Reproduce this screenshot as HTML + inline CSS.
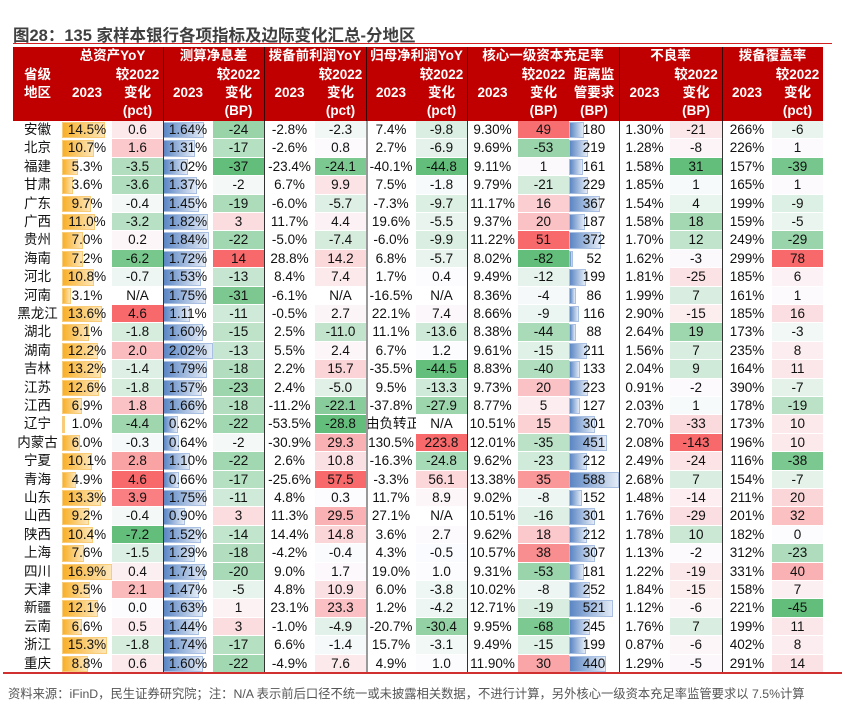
<!DOCTYPE html>
<html><head><meta charset="utf-8">
<style>
body{margin:0;background:#fff;width:845px;height:727px;overflow:hidden;position:relative;font-family:"Liberation Sans","Noto Sans CJK SC",sans-serif;}
.a{position:absolute;box-sizing:border-box;}
.title{left:13px;top:22px;font-size:16.5px;font-weight:bold;color:#404040;white-space:nowrap;}
.hd{color:#fff;font-weight:bold;font-size:13.5px;text-align:center;white-space:nowrap;line-height:18px;}
.c{font-size:13.5px;text-align:center;line-height:18.4px;white-space:nowrap;color:#111;}
.foot{left:8px;top:684px;font-size:12.3px;color:#555;white-space:nowrap;}
</style></head><body>
<div class="a title">图28：135 家样本银行各项指标及边际变化汇总-分地区</div>
<div class="a" style="left:13px;top:43px;width:819px;height:1px;background:#d02020"></div>
<div class="a" id="hdr" style="left:13px;top:47px;width:810px;height:74px;background:#c00000"></div>
<div id="body"></div>
<div class="a" style="left:3px;top:672px;width:839px;height:2px;background:#d03030"></div>
<div class="a foot">资料来源：iFinD，民生证券研究院；注：N/A 表示前后口径不统一或未披露相关数据，不进行计算，另外核心一级资本充足率监管要求以 7.5%计算</div>
<script>
const provinces=["安徽","北京","福建","甘肃","广东","广西","贵州","海南","河北","河南","黑龙江","湖北","湖南","吉林","江苏","江西","辽宁","内蒙古","宁夏","青海","山东","山西","陕西","上海","四川","天津","新疆","云南","浙江","重庆"];
const asset=[14.5,10.7,5.3,3.6,9.7,11.0,7.0,7.2,10.8,3.1,13.6,9.1,12.2,13.2,12.6,6.9,1.0,6.0,10.1,4.9,13.3,9.2,10.4,7.6,16.9,9.5,12.1,6.6,15.3,8.8];
const assetChg=[0.6,1.6,-3.5,-3.6,-0.4,-3.2,0.2,-6.2,-0.7,null,4.6,-1.8,2.0,-1.4,-1.8,1.8,-4.4,-0.3,2.8,4.6,3.9,-0.4,-7.2,-1.5,0.4,2.1,0.0,0.5,-1.8,0.6];
const nim=[1.64,1.31,1.02,1.37,1.45,1.82,1.84,1.72,1.53,1.75,1.11,1.60,2.02,1.79,1.57,1.66,0.62,0.64,1.10,0.66,1.75,0.90,1.52,1.29,1.71,1.47,1.63,1.44,1.74,1.60];
const nimChg=[-24,-17,-37,-2,-19,3,-22,14,-13,-31,-11,-15,-13,-18,-23,-18,-22,-2,-22,-17,-11,3,-14,-18,-20,-5,1,3,-17,-22];
const ppop=[-2.8,-2.6,-23.4,6.7,-6.0,11.7,-5.0,28.8,8.4,-6.1,-0.5,2.5,5.5,2.2,2.4,-11.2,-53.5,-30.9,2.6,-25.6,4.8,11.3,14.4,-4.2,9.0,4.8,23.1,-1.0,6.6,-4.9];
const ppopChg=[-2.3,0.8,-24.1,9.9,-5.7,4.4,-7.4,14.2,7.4,null,2.7,-11.0,2.4,15.7,-5.0,-22.1,-28.8,29.3,10.8,57.5,0.3,29.5,14.8,-0.4,1.7,10.9,23.3,-4.9,-1.4,7.6];
const netProfit=[7.4,2.7,-40.1,7.5,-7.3,19.6,-6.0,6.8,1.7,-16.5,22.1,11.1,6.7,-35.5,9.5,-37.8,"由负转正",130.5,-16.3,-3.3,11.7,27.1,3.6,4.3,19.0,6.0,1.2,-20.7,15.7,4.9];
const netProfitChg=[-9.8,-6.9,-44.8,-1.8,-9.7,-5.5,-9.9,-5.7,0.4,null,7.4,-13.6,1.2,-44.5,-13.3,-27.9,null,223.8,-24.8,56.1,8.9,null,2.7,-0.5,1.0,-3.8,-4.2,-30.4,-3.1,1.0];
const cet1=[9.30,9.69,9.11,9.79,11.17,9.37,11.22,8.02,9.49,8.36,8.66,8.38,9.61,8.83,9.73,8.77,10.51,12.01,9.62,13.38,9.02,10.51,9.62,10.57,9.31,10.02,12.71,9.95,9.49,11.90];
const cet1Chg=[49,-53,1,-21,16,20,51,-82,-12,-4,-9,-44,-15,-40,20,5,15,-35,-23,35,-8,-16,18,38,-53,-8,-19,-68,-15,30];
const cet1Gap=[180,219,161,229,367,187,372,52,199,86,116,88,211,133,223,127,301,451,212,588,152,301,212,307,181,252,521,245,199,440];
const npl=[1.30,1.28,1.58,1.85,1.54,1.58,1.70,1.62,1.81,1.99,2.90,2.64,1.56,2.04,0.91,2.03,2.70,2.08,2.49,2.68,1.48,1.76,1.78,1.13,1.22,1.84,1.12,1.76,0.87,1.29];
const nplChg=[-21,-8,31,1,4,18,12,-3,-25,7,-15,19,7,9,-2,1,-33,-143,-24,7,-14,-29,10,-2,-19,-15,-6,7,-6,-5];
const coverage=[266,226,157,165,199,159,249,299,185,161,185,173,235,164,390,178,173,196,116,154,211,201,182,312,331,158,221,199,402,291];
const coverageChg=[-6,1,-39,1,-9,-5,-29,78,6,1,16,-3,8,11,-7,-19,10,10,-38,-7,20,32,0,-23,40,7,-45,11,8,14];

const X=[13,62,112,163,213,264,315,366,416,467,518,569,619,670,722,772,823];
const TOP=121,RH=18.4;
const body=document.getElementById('body');
function mk(cls,l,t,w,h,txt,name){const d=document.createElement('div');d.className='a '+cls;d.style.left=l+'px';d.style.top=t+'px';d.style.width=w+'px';d.style.height=h+'px';if(txt!==undefined)d.textContent=txt;


return d;}
function mix(a,b,t){return 'rgb('+a.map((v,i)=>Math.round(v+(b[i]-v)*t)).join(',')+')';}
const W=[252,252,255],R=[248,105,107],G=[99,190,123];
function heat(arr,v,rev){if(v===null||typeof v!=='number')return '#fff';const nums=arr.filter(x=>typeof x==='number');const mx=Math.max(...nums),mn=Math.min(...nums);
if(v>=0){const t=mx>0?v/mx:0;return mix(W,rev?G:R,t);}const t=mn<0?v/mn:0;return mix(W,rev?R:G,t);}
function fmt(v,d,suf){if(v===null)return 'N/A';if(typeof v!=='number')return v;return v.toFixed(d)+(suf||'');}
function bar(ci,i,v,max,kind){const w=(X[ci+1]-X[ci])*v/max;const b=mk('',X[ci],TOP+i*RH+1,w,RH-2,undefined,kind+'-bar');
b.style.background=kind==='asset'?'linear-gradient(90deg,#f8b02a,#fde6b8)':'linear-gradient(90deg,#5b86c4,#e3ebf6)';
b.style.border=kind==='asset'?'1px solid #f9cc7a':'1px solid #a9c0e2';body.appendChild(b);}
function cell(ci,i,txt,bg,name){const d=mk('c',X[ci],TOP+i*RH,X[ci+1]-X[ci],RH,txt,name);if(bg){d.style.background=bg;d.style.borderBottom='1px solid #fff';}body.appendChild(d);}
const aMax=Math.max(...asset),nMax=Math.max(...nim),gMax=Math.max(...cet1Gap);
provinces.forEach((p,i)=>{
 cell(0,i,p,null,'province-label');
 bar(1,i,asset[i],aMax,'asset');cell(1,i,fmt(asset[i],1,'%'),null,'asset-yoy');
 cell(2,i,fmt(assetChg[i],1),heat(assetChg,assetChg[i]),'asset-yoy-change');
 bar(3,i,nim[i],nMax,'nim');cell(3,i,fmt(nim[i],2,'%'),null,'nim');
 cell(4,i,fmt(nimChg[i],0),heat(nimChg,nimChg[i]),'nim-change');
 cell(5,i,fmt(ppop[i],1,'%'),null,'ppop-yoy');
 cell(6,i,fmt(ppopChg[i],1),heat(ppopChg,ppopChg[i]),'ppop-yoy-change');
 cell(7,i,fmt(netProfit[i],1,'%'),null,'net-profit-yoy');
 cell(8,i,fmt(netProfitChg[i],1),heat(netProfitChg,netProfitChg[i]),'net-profit-yoy-change');
 cell(9,i,fmt(cet1[i],2,'%'),null,'cet1-ratio');
 cell(10,i,fmt(cet1Chg[i],0),heat(cet1Chg,cet1Chg[i]),'cet1-change');
 bar(11,i,cet1Gap[i],gMax,'gap');cell(11,i,fmt(cet1Gap[i],0),null,'cet1-gap');
 cell(12,i,fmt(npl[i],2,'%'),null,'npl-ratio');
 cell(13,i,fmt(nplChg[i],0),heat(nplChg,nplChg[i],true),'npl-change');
 cell(14,i,fmt(coverage[i],0,'%'),null,'coverage-ratio');
 cell(15,i,fmt(coverageChg[i],0),heat(coverageChg,coverageChg[i]),'coverage-change');
});
[[163,'#333',1],[264,'#333',1],[366,'#999',2],[467,'#333',1],[619,'#333',1],[722,'#333',1]].forEach(s=>{
 const d=mk('',s[0],TOP,s[2],30*RH,undefined,'column-separator');d.style.background=s[1];body.appendChild(d);
 const h=mk('',s[0],47,1,74,undefined,'header-separator');h.style.background='#3a0000';body.appendChild(h);
});
function ht(x,w,y,t,name){const d=mk('hd',x,y,w,18,t,name);body.appendChild(d);}
const groups=[[62,163,'总资产YoY'],[163,264,'测算净息差'],[264,366,'拨备前利润YoY'],[366,467,'归母净利润YoY'],[467,619,'核心一级资本充足率'],[619,722,'不良率'],[722,823,'拨备覆盖率']];
groups.forEach(g=>ht(g[0],g[1]-g[0],47,g[2],'group-header'));
ht(13,49,66,'省级','province-header');ht(13,49,84,'地区','province-header');
[1,3,5,7,9,12,14].forEach(ci=>ht(X[ci],X[ci+1]-X[ci],84,'2023','year-header'));
[[2,'(pct)'],[4,'(BP)'],[6,'(pct)'],[8,'(pct)'],[10,'(BP)'],[13,'(BP)'],[15,'(pct)']].forEach(c=>{
 ht(X[c[0]],X[c[0]+1]-X[c[0]],66,'较2022','change-header');
 ht(X[c[0]],X[c[0]+1]-X[c[0]],84,'变化','change-header');
 ht(X[c[0]],X[c[0]+1]-X[c[0]],102,c[1],'unit-header');});
ht(569,50,66,'距离监','gap-header');ht(569,50,84,'管要求','gap-header');ht(569,50,102,'(BP)','gap-header');
</script>
</body></html>
